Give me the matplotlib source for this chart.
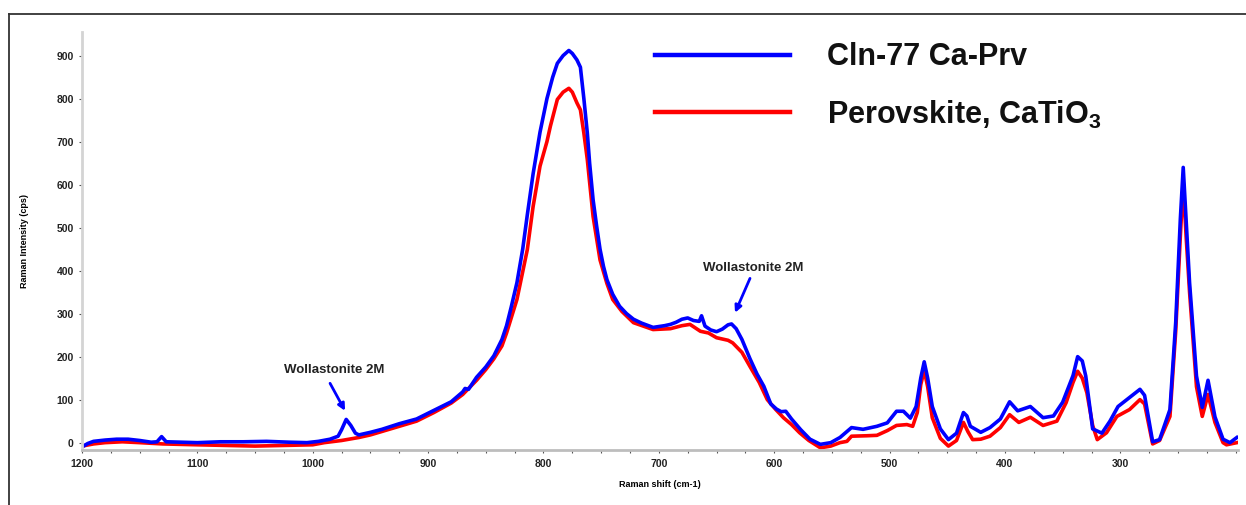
import matplotlib.pyplot as plt
from matplotlib.lines import Line2D

plt.rcParams['mathtext.fontset'] = 'custom'
plt.rcParams['mathtext.rm'] = 'Liberation Sans:bold'
plt.rcParams['mathtext.bf'] = 'Liberation Sans:bold'

# Raman shift (cm-1) and intensity (cps)
cln_shift = [1200, 1195, 1190, 1180, 1170, 1160, 1150, 1140, 1135, 1131, 1127, 1115, 1100,
             1080, 1060, 1040, 1020, 1005, 995, 985, 978, 975, 971, 967, 963, 960, 950, 940,
             925, 910, 895, 880, 870, 868, 865, 858, 850, 843, 836, 832, 828, 823, 818, 814,
             809, 803, 797, 792, 788, 783, 778, 775, 771, 768, 765, 762, 760, 757, 754, 751,
             748, 745, 740, 734, 728, 722, 715, 705, 700, 695, 690, 685, 680, 675, 670, 665,
             663, 660, 655, 650, 645, 640, 637, 633, 628, 621, 615, 609, 603, 598, 594, 590,
             585, 577, 569, 560, 551, 543, 536, 533, 523, 511, 502, 494, 488, 482, 477, 473,
             470, 467, 463, 456, 449, 442, 436, 433, 430, 421, 413, 404, 396, 389, 378, 367,
             358, 350, 341, 337, 333, 330, 324, 316, 309, 302, 292, 283, 279, 272, 266, 257,
             252, 248, 245.5, 243, 240, 234, 229, 224, 218, 211, 205, 199]
cln_int = [-10, -2, 3, 6, 8, 8, 5, 1, 2, 14, 2, 1, 0,
           2, 2, 3, 1, 0, 3, 8, 15, 30, 54, 40, 22, 18, 24, 31,
           44, 55, 75, 95, 118, 126, 124, 152, 176, 202, 240, 272, 315, 372, 450, 530,
           625, 722, 800, 850, 882, 900, 912, 905, 890, 873, 800, 720, 650, 565, 505, 450,
           410, 379, 345, 317, 300, 287, 278, 268, 270, 272, 275, 280, 287, 290, 284, 282,
           295, 271, 262, 258, 264, 274, 276, 265, 240, 195, 160, 131, 90, 78, 72, 73,
           55, 30, 8, -4, 0, 12, 28, 35, 31, 38, 46, 73, 73, 57, 84, 150,
           188, 150, 84, 32, 7, 22, 70, 62, 38, 24, 35, 55, 95, 74, 84, 58,
           62, 94, 156, 200, 190, 155, 32, 22, 50, 84, 105, 124, 110, 2, 7, 77,
           280, 520, 640, 520, 372, 155, 82, 145, 60, 8, 0, 12]

prv_shift = [1200, 1190, 1180, 1165, 1150, 1130, 1100, 1050, 1000, 990, 975, 960, 950, 940,
             925, 910, 895, 880, 870, 858, 850, 843, 836, 832, 823, 814, 809, 803, 797, 794,
             788, 783, 778, 775, 771, 768, 765, 762, 757, 751, 745, 740, 732, 722, 705, 690,
             680, 673, 664, 657, 650, 640, 636, 628, 621, 613, 606, 599, 592, 585, 578, 570,
             560, 551, 543, 537, 533, 520, 511, 502, 494, 485, 480, 476, 473, 470, 467, 463,
             456, 449, 442, 436, 432, 428, 421, 413, 404, 396, 388, 378, 367, 355, 347, 341,
             337, 333, 329, 324, 320, 312, 303, 292, 283, 279, 272, 266, 257, 252, 248, 245.5,
             243, 240, 234, 229, 224, 218, 211, 208, 199]
prv_int = [-8, -3, 0, 2, 0, -3, -5, -8, -5, 0, 5, 12, 18, 26,
           38, 50, 70, 92, 112, 145, 170, 195, 225, 255, 333, 449, 549, 643, 700, 736,
           798, 815, 824, 815, 790, 774, 720, 658, 526, 425, 370, 333, 305, 279, 263, 265,
           272, 275, 259, 255, 244, 238, 232, 210, 177, 140, 100, 78, 58, 42, 23, 5,
           -12, -8, 0, 3, 15, 16, 17, 28, 40, 42, 38, 70, 135, 168, 130, 58,
           10, -8, 5, 47, 25, 7, 8, 15, 35, 65, 47, 59, 40, 50, 93, 140,
           166, 150, 116, 40, 7, 23, 61, 77, 100, 90, -3, 5, 61, 260, 480, 605,
           480, 350, 130, 61, 112, 47, 0, -5, 0]

y_ticks = [0, 100, 200, 300, 400, 500, 600, 700, 800, 900]
x_ticks = [1200, 1100, 1000, 900, 800, 700, 600, 500, 400, 300]

fig = plt.figure(figsize=(12.46, 5.05), dpi=100)
ax = fig.add_axes([0.0658, 0.109, 0.9278, 0.8277])

ax.plot(prv_shift, prv_int, color='#ff0000', lw=2.6, solid_joinstyle='round')
ax.plot(cln_shift, cln_int, color='#0000ff', lw=2.6, solid_joinstyle='round')

ax.set_xlim(1200, 198)
ax.set_ylim(-17, 955)
ax.set_xticks(x_ticks)
ax.set_xticks(range(1200, 199, -25), minor=True)
ax.set_yticks(y_ticks)

for s in ['top', 'right']:
    ax.spines[s].set_visible(False)
ax.spines['left'].set_color('#d4d4d4')
ax.spines['left'].set_linewidth(2)
ax.spines['bottom'].set_color('#bdbdbd')
ax.spines['bottom'].set_linewidth(2)

ax.tick_params(axis='both', which='both', color='#555555', length=2.5, width=0.8)
ax.tick_params(axis='x', which='major', pad=4)
for lab in ax.get_xticklabels() + ax.get_yticklabels():
    lab.set_fontsize(7.5)
    lab.set_fontweight('bold')
    lab.set_family('Liberation Sans')
    lab.set_color('#222222')

ax.set_xlabel('Raman shift (cm-1)', fontsize=6.5, fontweight='bold', family='Liberation Sans', labelpad=8)
ax.set_ylabel('Raman Intensity (cps)', fontsize=6.5, fontweight='bold', family='Liberation Sans', labelpad=20)

# phase annotations
arrow = dict(arrowstyle='-|>', color='#0000ff', lw=2, mutation_scale=10, shrinkA=0, shrinkB=0)
ax.text(981, 168, 'Wollastonite 2M', ha='center', va='center', fontsize=9.5,
        fontweight='bold', color='#222222', family='Liberation Sans')
ax.annotate('', xy=(972, 74), xytext=(985, 138), arrowprops=arrow)
ax.text(618, 407, 'Wollastonite 2M', ha='center', va='center', fontsize=9.5,
        fontweight='bold', color='#222222', family='Liberation Sans')
ax.annotate('', xy=(634, 302), xytext=(621, 382), arrowprops=arrow)

# legend drawn by hand, like the reference
fig.add_artist(Line2D([655 / 1246, 790 / 1246], [1 - 55 / 505] * 2, color='#0000ff', lw=3.2))
fig.add_artist(Line2D([655 / 1246, 790 / 1246], [1 - 112 / 505] * 2, color='#ff0000', lw=3.2))
fig.text(827 / 1246, 1 - 57 / 505, 'Cln-77 Ca-Prv', fontsize=22, fontweight='bold',
         family='Liberation Sans', va='center', ha='left', color='#111111')
fig.text(827 / 1246, 1 - 115 / 505, 'Perovskite, CaTiO$_3$', fontsize=22, fontweight='bold',
         family='Liberation Sans', va='center', ha='left', color='#111111')

# outer frame (left and top edges visible)
fig.add_artist(Line2D([8.5 / 1246, 8.5 / 1246], [0, 1 - 13.5 / 505], color='#333333', lw=1.3))
fig.add_artist(Line2D([8.5 / 1246, 1], [1 - 13.5 / 505] * 2, color='#333333', lw=1.3))

fig.savefig('out.png', dpi=100)
